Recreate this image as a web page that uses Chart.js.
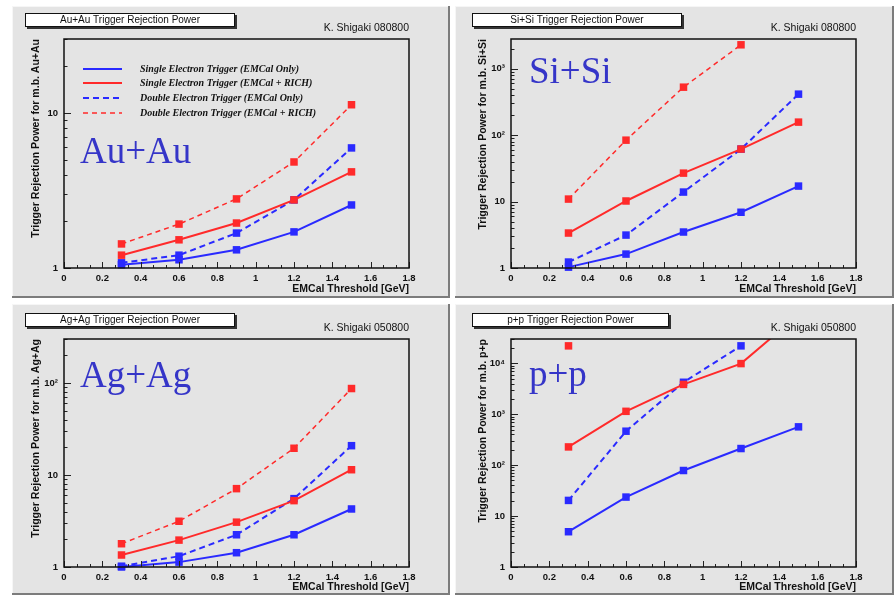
<!DOCTYPE html>
<html>
<head>
<meta charset="utf-8">
<script src="https://cdn.jsdelivr.net/npm/chart.js@4/dist/chart.umd.min.js"></script>
<style>
  body { margin: 0; background: #fff; }
  #wrap { position: relative; width: 894px; height: 595px; overflow: hidden; background: #fff; }
  .pad { position: absolute; background: #e4e4e4; box-shadow: inset -2px -2px 0 #7c7c7c, inset 1px 1px 0 #f6f6f6; }
  .pad canvas { position: absolute; left: 0; top: 0; }
</style>
</head>
<body>
<div id="wrap"></div>
<script>
// EMCal threshold [GeV]
const thresholds = [0.3, 0.6, 0.9, 1.2, 1.5];
const seriesNames = [
  'Single Electron Trigger (EMCal Only)',
  'Single Electron Trigger (EMCal + RICH)',
  'Double Electron Trigger (EMCal Only)',
  'Double Electron Trigger (EMCal + RICH)'
];
const xTickValues = [0, 0.2, 0.4, 0.6, 0.8, 1, 1.2, 1.4, 1.6, 1.8];
const powerLabels = ['1', '10', '10²', '10³', '10⁴'];

// Au+Au
const auSingleEmc = [1.05, 1.13, 1.31, 1.71, 2.55];
const auSingleRich = [1.21, 1.52, 1.95, 2.75, 4.17];
const auDoubleEmc = [1.08, 1.21, 1.68, 2.75, 5.95];
const auDoubleRich = [1.43, 1.92, 2.79, 4.83, 11.3];

// Si+Si
const siSingleEmc = [1.03, 1.62, 3.48, 6.9, 17.1];
const siSingleRich = [3.36, 10.2, 26.8, 61.7, 157];
const siDoubleEmc = [1.23, 3.13, 13.9, 61.7, 414];
const siDoubleRich = [10.9, 84, 527, 2290, null];

// Ag+Ag
const agSingleEmc = [1.0, 1.13, 1.43, 2.24, 4.27];
const agSingleRich = [1.35, 1.96, 3.07, 5.26, 11.4];
const agDoubleEmc = [1.02, 1.31, 2.24, 5.53, 20.8];
const agDoubleRich = [1.79, 3.14, 7.1, 19.5, 86.9];

// p+p
const ppSingleEmc = [4.93, 23.6, 78.5, 212, 565];
const ppSingleRich = [228, 1140, 3850, 9870, 90000];
const ppDoubleEmc = [20.3, 464, 4240, 22000, null];
const ppDoubleRich = [22000, null, null, null, null];

const BLUE = '#2a2aff';
const RED = '#ff2a2a';
const seriesStyles = [
  { color: BLUE, width: 2, dash: [] },
  { color: RED, width: 2, dash: [] },
  { color: BLUE, width: 2, dash: [6, 4] },
  { color: RED, width: 1.5, dash: [5, 4] }
];

const pads = [
  { system: 'Au+Au', left: 12, top: 6, width: 438, height: 292, area: { l: 52, t: 33, r: 397 }, xTitlePad: 3,
    yMax: 30, series: [auSingleEmc, auSingleRich, auDoubleEmc, auDoubleRich],
    box: [13, 7, 210, 14], stamp: 'K. Shigaki 080800', big: [68, 157], legend: true },
  { system: 'Si+Si', left: 455, top: 6, width: 439, height: 292, area: { l: 56, t: 33, r: 401 }, xTitlePad: 3,
    yMax: 2800, series: [siSingleEmc, siSingleRich, siDoubleEmc, siDoubleRich],
    box: [17, 7, 210, 14], stamp: 'K. Shigaki 080800', big: [74, 77] },
  { system: 'Ag+Ag', left: 12, top: 304, width: 438, height: 291, area: { l: 52, t: 35, r: 397 }, xTitlePad: 2,
    yMax: 300, series: [agSingleEmc, agSingleRich, agDoubleEmc, agDoubleRich],
    box: [13, 9, 210, 14], stamp: 'K. Shigaki 050800', big: [68, 83] },
  { system: 'p+p', left: 455, top: 304, width: 439, height: 291, area: { l: 56, t: 35, r: 401 }, xTitlePad: 2,
    yMax: 30000, series: [ppSingleEmc, ppSingleRich, ppDoubleEmc, ppDoubleRich],
    box: [17, 9, 197, 14], stamp: 'K. Shigaki 050800', big: [74, 82] }
];

// ROOT-like frame, inward ticks, title box, stamp, big label, legend
const padPlugin = {
  id: 'pad',
  afterDraw(chart, args, opts) {
    const ctx = chart.ctx;
    const a = chart.chartArea;
    const xs = chart.scales.x;
    const ys = chart.scales.y;
    ctx.save();

    ctx.strokeStyle = '#222';
    ctx.lineWidth = 1;
    ctx.beginPath();
    for (let i = 0; i <= 27; i++) {
      const px = Math.round(xs.getPixelForValue(i * 0.2 / 3)) + 0.5;
      const len = i % 3 === 0 ? 6 : 3;
      ctx.moveTo(px, a.bottom);
      ctx.lineTo(px, a.bottom - len);
    }
    for (let e = 0; Math.pow(10, e) <= ys.max; e++) {
      for (let m = 1; m <= 9; m++) {
        const v = m * Math.pow(10, e);
        if (v > ys.max) break;
        const py = Math.round(ys.getPixelForValue(v)) + 0.5;
        ctx.moveTo(a.left, py);
        ctx.lineTo(a.left + (m === 1 ? 7 : 3.5), py);
      }
    }
    ctx.stroke();

    ctx.lineWidth = 1.5;
    ctx.strokeStyle = '#111';
    ctx.strokeRect(a.left, a.top, a.right - a.left, a.bottom - a.top);

    // title box with shadow
    const [bx, by, bw, bh] = opts.box;
    ctx.fillStyle = '#333';
    ctx.fillRect(bx + 2, by + 2, bw, bh);
    ctx.fillStyle = '#fff';
    ctx.fillRect(bx, by, bw, bh);
    ctx.lineWidth = 1;
    ctx.strokeStyle = '#111';
    ctx.strokeRect(bx + 0.5, by + 0.5, bw - 1, bh - 1);
    ctx.fillStyle = '#111';
    ctx.font = '10px "Liberation Sans", Arial, sans-serif';
    ctx.textAlign = 'center';
    ctx.textBaseline = 'middle';
    ctx.fillText(opts.system + ' Trigger Rejection Power', bx + bw / 2, by + bh / 2 + 0.5);

    ctx.textAlign = 'right';
    ctx.font = '10.5px "Liberation Sans", Arial, sans-serif';
    ctx.fillText(opts.stamp, a.right, a.top - 11);

    ctx.fillStyle = '#3535c8';
    ctx.font = '37px "Liberation Serif", "Times New Roman", serif';
    ctx.textAlign = 'left';
    ctx.textBaseline = 'alphabetic';
    ctx.fillText(opts.system, opts.big[0], opts.big[1]);

    if (opts.legend) {
      const rows = [63, 77, 92, 107];
      chart.data.datasets.forEach((ds, i) => {
        ctx.strokeStyle = ds.borderColor;
        ctx.lineWidth = ds.borderWidth;
        ctx.setLineDash(ds.borderDash);
        ctx.beginPath();
        ctx.moveTo(71, rows[i]);
        ctx.lineTo(110, rows[i]);
        ctx.stroke();
        ctx.setLineDash([]);
        ctx.fillStyle = '#111';
        ctx.font = 'italic bold 10px "Liberation Serif", serif';
        ctx.textBaseline = 'middle';
        ctx.fillText(ds.label, 128, rows[i]);
      });
    }
    ctx.restore();
  }
};

Chart.defaults.color = '#111';
Chart.defaults.font.family = '"Liberation Sans", Arial, sans-serif';

const wrap = document.getElementById('wrap');

pads.forEach(p => {
  const div = document.createElement('div');
  div.className = 'pad';
  div.style.left = p.left + 'px';
  div.style.top = p.top + 'px';
  div.style.width = p.width + 'px';
  div.style.height = p.height + 'px';
  const canvas = document.createElement('canvas');
  canvas.width = p.width;
  canvas.height = p.height;
  div.appendChild(canvas);
  wrap.appendChild(div);

  const bottomArea = p.height - (p.system === 'Au+Au' || p.system === 'Si+Si' ? 30 : 28);

  const datasets = p.series.map((values, i) => ({
    label: seriesNames[i],
    data: values.map((v, k) => ({ x: thresholds[k], y: v })),
    borderColor: seriesStyles[i].color,
    backgroundColor: seriesStyles[i].color,
    borderWidth: seriesStyles[i].width,
    borderDash: seriesStyles[i].dash,
    pointStyle: 'rect',
    pointRadius: 5.3,
    pointBorderWidth: 0,
    pointBackgroundColor: seriesStyles[i].color,
    tension: 0,
    spanGaps: false,
    clip: { left: 10, top: 0, right: 10, bottom: 10 }
  }));

  new Chart(canvas, {
    type: 'line',
    data: { datasets },
    options: {
      responsive: false,
      animation: false,
      layout: { padding: { left: 0, top: p.area.t, right: p.width - p.area.r, bottom: 0 } },
      plugins: {
        legend: { display: false },
        tooltip: { enabled: false },
        pad: { system: p.system, box: p.box, stamp: p.stamp, big: p.big, legend: !!p.legend }
      },
      scales: {
        x: {
          type: 'linear',
          min: 0,
          max: 1.8,
          afterFit: s => { s.height = p.height - bottomArea; },
          afterBuildTicks: s => { s.ticks = xTickValues.map(v => ({ value: v })); },
          grid: { display: false, drawTicks: false },
          border: { display: false },
          ticks: {
            padding: 5,
            autoSkip: false,
            maxRotation: 0,
            font: { size: 9.5, weight: 'bold' },
            callback: v => String(parseFloat(v.toFixed(1)))
          },
          title: {
            display: true,
            text: 'EMCal Threshold [GeV]',
            align: 'end',
            font: { size: 10.5, weight: 'bold' },
            padding: { top: 0, bottom: p.xTitlePad }
          }
        },
        y: {
          type: 'logarithmic',
          min: 1,
          max: p.yMax,
          afterFit: s => { s.width = p.area.l; },
          grid: { display: false, drawTicks: false },
          border: { display: false },
          ticks: {
            padding: 6,
            autoSkip: false,
            font: { size: 9.5, weight: 'bold' },
            callback: v => {
              const e = Math.log10(v);
              return Math.abs(e - Math.round(e)) < 1e-9 ? powerLabels[Math.round(e)] : '';
            }
          },
          title: {
            display: true,
            text: 'Trigger Rejection Power for m.b. ' + p.system,
            align: 'end',
            font: { size: 10.5, weight: 'bold' },
            padding: { top: p.area.l - 34, bottom: 0 }
          }
        }
      }
    },
    plugins: [padPlugin]
  });
});
</script>
</body>
</html>
